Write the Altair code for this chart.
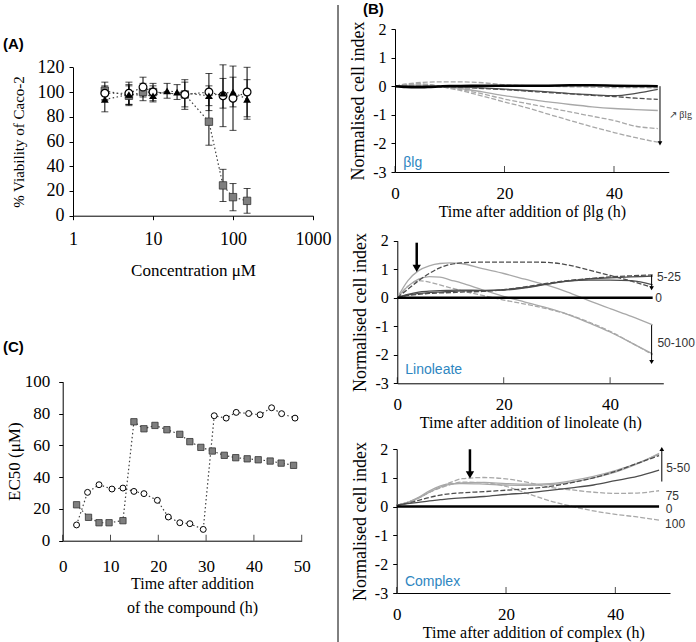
import altair as alt
import pandas as pd

SERIF = "Liberation Serif"
SANS = "Liberation Sans"
W, H = 696, 642

# ---------------- Panel A : viability vs concentration ----------------
A_sq_conc = [2.5, 5, 7.5, 10, 25, 50, 75, 100, 150]
A_sq_val = [101, 97, 100, 100, 98, 76, 24.5, 15, 12]
A_sq_err = [7, 8, 7, 5, 12, 19, 13, 11, 10]
A_ci_conc = [2.5, 5, 7.5, 10, 25, 50, 75, 100, 150]
A_ci_val = [99, 99, 104, 100, 98, 100, 97, 95, 100]
A_ci_err = [6, 9, 8, 7, 10, 15, 25, 26, 20]
A_tr_conc = [2.5, 5, 10, 15, 20, 50, 75, 100, 150]
A_tr_val = [94, 98, 97, 101, 100, 97, 99, 100, 94]
A_tr_err = [10, 8, 5, 6, 6, 8, 12, 12, 16]
A_xticks = [1, 10, 100, 1000]
A_yticks = [0, 20, 40, 60, 80, 100, 120]

# ---------------- Panel C : EC50 vs time ----------------
C_sq_t = [2.9, 5.4, 7.6, 9.7, 12.6, 14.9, 17.0, 19.3, 21.8, 24.5, 26.6, 28.9, 31.3, 33.8, 36.2, 38.6, 40.9, 43.4, 45.7, 48.3]
C_sq_v = [22.6, 14.7, 11.3, 11.3, 12.6, 74.8, 70.4, 72.5, 69.8, 66.9, 62.3, 58.7, 56.4, 53.7, 52.2, 51.5, 50.9, 50.1, 48.8, 47.4]
C_ci_t = [2.9, 5.2, 7.6, 10.3, 12.6, 14.9, 17.0, 19.8, 22.1, 24.5, 26.6, 29.4, 31.7, 34.2, 36.3, 38.9, 41.3, 43.7, 45.8, 48.6]
C_ci_v = [9.9, 30.4, 35.2, 32.5, 33.1, 31.0, 29.6, 25.4, 14.9, 11.3, 10.7, 7.1, 78.6, 77.1, 80.7, 80.0, 79.2, 83.6, 79.9, 77.1]
C_xticks = [0, 10, 20, 30, 40, 50]
C_yticks = [0, 20, 40, 60, 80, 100]

# ---------------- Panel B : normalised cell index ----------------
B_T = [0, 2, 4, 6, 8, 10, 12, 16, 20, 24, 28, 32, 36, 40, 44, 48]
B_xticks = [0, 20, 40]
B_yticks = [-3, -2, -1, 0, 1, 2]

b1_ctrl = [0, -0.03, -0.04, -0.03, -0.01, 0.01, 0.01, 0.02, 0.02, 0.02, 0.02, 0.03, 0.03, 0.02, 0.01, 0]
b1_ds = [0, 0, 0, 0, -0.01, -0.02, -0.03, -0.06, -0.1, -0.15, -0.2, -0.26, -0.3, -0.33, -0.25, -0.11]
b1_dd = [0, 0, 0, 0, -0.01, -0.02, -0.04, -0.08, -0.12, -0.17, -0.22, -0.27, -0.32, -0.36, -0.42, -0.46]
b1_gs = [0, 0.03, 0.04, 0.03, 0, -0.04, -0.08, -0.2, -0.33, -0.44, -0.55, -0.64, -0.72, -0.78, -0.82, -0.85]
b1_gd1 = [0, 0.05, 0.08, 0.06, 0, -0.06, -0.12, -0.27, -0.45, -0.6, -0.75, -0.9, -1.05, -1.2, -1.4, -1.48]
b1_gd2 = [0, 0.05, 0.08, 0.06, 0, -0.08, -0.15, -0.35, -0.55, -0.75, -0.98, -1.2, -1.42, -1.62, -1.8, -1.96]
b1_gd3 = [0, 0.08, 0.12, 0.14, 0.15, 0.15, 0.15, 0.12, 0.05, 0.02, 0, -0.02, -0.03, -0.05, -0.05, -0.06]

b2_ctrl = [0] * 16
b2_gs1 = [0, 0.6, 0.95, 1.12, 1.2, 1.22, 1.2, 1.02, 0.85, 0.65, 0.45, 0.2, -0.1, -0.38, -0.65, -0.95]
b2_dd1 = [0, 0.3, 0.6, 0.85, 1.05, 1.17, 1.22, 1.25, 1.25, 1.25, 1.24, 1.15, 0.97, 0.78, 0.58, 0.36]
b2_ds1 = [0, 0.1, 0.15, 0.18, 0.2, 0.22, 0.24, 0.25, 0.28, 0.36, 0.48, 0.58, 0.62, 0.62, 0.6, 0.45]
b2_dd2 = [0, 0.08, 0.12, 0.15, 0.17, 0.18, 0.2, 0.22, 0.28, 0.38, 0.5, 0.6, 0.67, 0.73, 0.77, 0.8]
b2_ds2 = [0, 0.12, 0.2, 0.23, 0.25, 0.26, 0.27, 0.26, 0.27, 0.35, 0.47, 0.58, 0.66, 0.7, 0.73, 0.76]
b2_gd1 = [0, 0.4, 0.6, 0.55, 0.45, 0.35, 0.25, 0.08, -0.08, -0.22, -0.38, -0.58, -0.85, -1.18, -1.58, -2.0]
b2_gs2 = [0, 0.4, 0.65, 0.74, 0.72, 0.62, 0.52, 0.28, 0.05, -0.15, -0.35, -0.58, -0.88, -1.2, -1.58, -1.97]

b3_ctrl = [0] * 16
b3_gd75 = [0.05, 0.15, 0.3, 0.5, 0.68, 0.85, 0.97, 1.01, 0.96, 0.84, 0.67, 0.58, 0.5, 0.46, 0.47, 0.55]
b3_gd100 = [0.05, 0.15, 0.3, 0.5, 0.65, 0.77, 0.85, 0.83, 0.7, 0.45, 0.2, 0.01, -0.15, -0.27, -0.36, -0.47]
b3_gs1 = [0.05, 0.12, 0.3, 0.5, 0.68, 0.78, 0.82, 0.84, 0.8, 0.78, 0.8, 0.9, 1.05, 1.25, 1.5, 1.82]
b3_gs2 = [0.05, 0.15, 0.32, 0.55, 0.72, 0.8, 0.8, 0.78, 0.75, 0.74, 0.76, 0.85, 1.0, 1.2, 1.48, 1.85]
b3_dd = [0.05, 0.12, 0.22, 0.32, 0.4, 0.45, 0.48, 0.52, 0.57, 0.62, 0.7, 0.83, 1.0, 1.22, 1.5, 1.77]
b3_ds = [0.05, 0.1, 0.15, 0.2, 0.24, 0.28, 0.3, 0.35, 0.42, 0.48, 0.56, 0.65, 0.75, 0.9, 1.05, 1.27]

# arrows: (x, from, to, heavy)
b1_arrows = [(48.4, 0.0, -2.0, False)]
b2_arrows = [(3.65, 1.93, 1.03, True), (47.8, 0.8, 0.33, False), (47.8, -0.96, -2.25, False)]
b3_arrows = [(13.4, 1.99, 1.1, True), (48.5, 0.87, 2.0, False)]
# side notes: (x, y, text, font, size)
b1_notes = [(50.0, -1.0, "↗ βlg", SERIF, 10)]
b2_notes = [(48.8, 0.74, "5-25", SANS, 12), (48.5, 0.0, "0", SANS, 12), (48.9, -1.6, "50-100", SANS, 12)]
b3_notes = [(49.3, 1.33, "5-50", SANS, 12), (49.2, 0.37, "75", SANS, 12), (49.2, -0.09, "0", SANS, 12),
            (49.1, -0.6, "100", SANS, 12)]

STY = {
    "gs": dict(color="#a8a8a8", strokeWidth=1.3),
    "gd": dict(color="#a8a8a8", strokeWidth=1.3, strokeDash=[5, 2]),
    "ds": dict(color="#4d4d4d", strokeWidth=1.3),
    "dd": dict(color="#4d4d4d", strokeWidth=1.3, strokeDash=[5, 2]),
    "k": dict(color="black", strokeWidth=2.5),
}


def lin(domain, rng):
    return alt.Scale(type="linear", domain=domain, range=rng, nice=False, zero=False)


def axis(orient, pos, values, title, lab_fs, title_fs, tick_size, lab_pad, title_pad, ticks=True, **extra):
    offset = -pos if orient == "left" else pos - H
    return alt.Axis(orient=orient, offset=offset, values=values, title=title, grid=False,
                    ticks=ticks, tickSize=tick_size, tickColor="black", domainColor="black",
                    labelFont=SERIF, labelFontSize=lab_fs, labelColor="black", labelPadding=lab_pad,
                    labelFlush=False, labelOverlap=False, labelExpr="'' + datum.value",
                    titleFont=SERIF, titleFontSize=title_fs, titleFontWeight="normal",
                    titleColor="black", titlePadding=title_pad, **extra)


# ---------------- build panel A ----------------
def errdf(c, v, e, s):
    return pd.DataFrame({"c": c, "v": v, "lo": [a - b for a, b in zip(v, e)],
                         "hi": [a + b for a, b in zip(v, e)], "s": s})


dA = pd.concat([errdf(A_sq_conc, A_sq_val, A_sq_err, "sq"),
                errdf(A_ci_conc, A_ci_val, A_ci_err, "ci"),
                errdf(A_tr_conc, A_tr_val, A_tr_err, "tr")], ignore_index=True)
xA = alt.Scale(type="log", domain=[1, 1000], range=[73, 313], nice=False)
yA = lin([0, 120], [215.7, 67.3])
axAx = axis("bottom", 215.7, A_xticks, "Concentration μM", 18, 17, 4, 11, 14)
axAy = axis("left", 73, A_yticks, "% Viability of Caco-2", 18, 15, 4, 5, 11)


def XA(f="c:Q"):
    return alt.X(f, scale=xA, axis=axAx)


def YA(f):
    return alt.Y(f, scale=yA, axis=axAy)


panelA = alt.layer(
    alt.Chart(dA).mark_line(color="#404040", strokeWidth=1.2, strokeDash=[1.5, 2.5]).encode(
        x=XA(), y=YA("v:Q"), detail="s:N"),
    alt.Chart(dA).mark_rule(color="black", strokeWidth=1).encode(x=XA(), y=YA("lo:Q"), y2="hi:Q"),
    alt.Chart(dA).mark_tick(orient="horizontal", size=7, thickness=1, color="black").encode(x=XA(), y=YA("lo:Q")),
    alt.Chart(dA).mark_tick(orient="horizontal", size=7, thickness=1, color="black").encode(x=XA(), y=YA("hi:Q")),
    alt.Chart(dA[dA.s == "sq"]).mark_point(shape="square", filled=True, fill="#7f7f7f", stroke="#333333",
                                           strokeWidth=0.8, size=55, opacity=1).encode(x=XA(), y=YA("v:Q")),
    alt.Chart(dA[dA.s == "ci"]).mark_point(shape="circle", filled=True, fill="white", stroke="black",
                                           strokeWidth=1.2, size=60, opacity=1).encode(x=XA(), y=YA("v:Q")),
    alt.Chart(dA[dA.s == "tr"]).mark_point(shape="triangle-up", filled=True, fill="black",
                                           size=60, opacity=1).encode(x=XA(), y=YA("v:Q")),
)

# ---------------- build panel C ----------------
dC = pd.concat([pd.DataFrame({"t": C_sq_t, "v": C_sq_v, "s": "sq"}),
                pd.DataFrame({"t": C_ci_t, "v": C_ci_v, "s": "ci"})], ignore_index=True)
xC = lin([0, 50], [62.7, 301.7])
yC = lin([0, 100], [540.7, 381.7])
axCx = axis("bottom", 540.7, C_xticks, ["Time after addition", "of the compound (h)"], 17, 16, 0, 18, 0,
            ticks=False, titleLineHeight=24, titleX=192, titleY=35, titleBaseline="top")
axCy = axis("left", 62.7, C_yticks, "EC50 (μM)", 17, 17, 4, 9, 1)
tickC = pd.DataFrame({"t": C_xticks, "y0": [0] * len(C_xticks)})


def XC(f):
    return alt.X(f, scale=xC, axis=axCx)


def YC(f):
    return alt.Y(f, scale=yC, axis=axCy)


panelC = alt.layer(
    alt.Chart(tickC).mark_tick(orient="vertical", size=6, thickness=1, color="black", yOffset=-3).encode(
        x=XC("t:Q"), y=YC("y0:Q")),
    alt.Chart(dC).mark_line(color="#404040", strokeWidth=1.2, strokeDash=[1.5, 2.5]).encode(
        x=XC("t:Q"), y=YC("v:Q"), detail="s:N"),
    alt.Chart(dC[dC.s == "sq"]).mark_point(shape="square", filled=True, fill="#7f7f7f", stroke="#333333",
                                           strokeWidth=0.8, size=40, opacity=1).encode(x=XC("t:Q"), y=YC("v:Q")),
    alt.Chart(dC[dC.s == "ci"]).mark_point(shape="circle", filled=True, fill="white", stroke="black",
                                           strokeWidth=1, size=35, opacity=1).encode(x=XC("t:Q"), y=YC("v:Q")),
)


# ---------------- build panel B ----------------
def b_panel(series, xr, yr, xtitle, tag, tag_xy, arrows, notes):
    xs = lin([0, 50], xr)
    ys = lin([-3, 2], yr)
    ax_x = axis("bottom", yr[0], B_xticks, xtitle, 17, 16, 0, 13, 2, ticks=False)
    ax_y = axis("left", xr[0], B_yticks, "Normalised cell index", 16, 18, 4, 5, 5)

    def X(f):
        return alt.X(f, scale=xs, axis=ax_x)

    def Y(f):
        return alt.Y(f, scale=ys, axis=ax_y)

    tick_df = pd.DataFrame({"t": B_xticks, "y0": [-3] * len(B_xticks)})
    layers = [alt.Chart(tick_df).mark_tick(orient="vertical", size=6, thickness=1, color="black", yOffset=-3).encode(
        x=X("t:Q"), y=Y("y0:Q"))]
    for style in ["gs", "gd", "ds", "dd", "k"]:
        rows = []
        for i, (vals, st) in enumerate(series):
            if st == style:
                rows += [{"t": t, "v": v, "id": i} for t, v in zip(B_T, vals)]
        if rows:
            layers.append(alt.Chart(pd.DataFrame(rows)).mark_line(interpolate="monotone", **STY[style]).encode(
                x=X("t:Q"), y=Y("v:Q"), detail="id:N"))
    for heavy in (False, True):
        sel = [a for a in arrows if a[3] == heavy]
        if not sel:
            continue
        ad = pd.DataFrame({"x": [a[0] for a in sel], "y1": [a[1] for a in sel], "y2": [a[2] for a in sel]})
        layers.append(alt.Chart(ad).mark_rule(color="black", strokeWidth=2.5 if heavy else 1).encode(
            x=X("x:Q"), y=Y("y1:Q"), y2="y2:Q"))
        for shape, cond in (("triangle-down", ad.y2 < ad.y1), ("triangle-up", ad.y2 > ad.y1)):
            sub = ad[cond]
            if len(sub):
                layers.append(alt.Chart(sub).mark_point(shape=shape, filled=True, color="black", opacity=1,
                                                        size=70 if heavy else 22).encode(x=X("x:Q"), y=Y("y2:Q")))
    for n in notes:
        nd = pd.DataFrame({"x": [n[0]], "y": [n[1]], "txt": [n[2]]})
        layers.append(alt.Chart(nd).mark_text(align="left", baseline="middle", font=n[3], fontSize=n[4],
                                              color="#333333").encode(x=X("x:Q"), y=Y("y:Q"), text="txt:N"))
    td = pd.DataFrame({"x": [tag_xy[0]], "y": [tag_xy[1]], "txt": [tag]})
    layers.append(alt.Chart(td).mark_text(align="left", baseline="middle", font=SANS, fontSize=14,
                                          color="#2e86c1").encode(x=X("x:Q"), y=Y("y:Q"), text="txt:N"))
    return alt.layer(*layers)


panelB1 = b_panel([(b1_gd3, "gd"), (b1_gs, "gs"), (b1_gd1, "gd"), (b1_gd2, "gd"),
                   (b1_ds, "ds"), (b1_dd, "dd"), (b1_ctrl, "k")],
                  [395, 668.75], [172, 29], "Time after addition of βlg (h)", "βlg", (1.5, -2.7),
                  b1_arrows, b1_notes)
panelB2 = b_panel([(b2_gs1, "gs"), (b2_gs2, "gs"), (b2_gd1, "gd"), (b2_dd1, "dd"),
                   (b2_ds1, "ds"), (b2_dd2, "dd"), (b2_ds2, "ds"), (b2_ctrl, "k")],
                  [397.3, 663.3], [383.3, 240.7], "Time after addition of linoleate (h)", "Linoleate",
                  (1.5, -2.53), b2_arrows, b2_notes)
panelB3 = b_panel([(b3_gd75, "gd"), (b3_gd100, "gd"), (b3_gs1, "gs"), (b3_gs2, "gs"),
                   (b3_dd, "dd"), (b3_ds, "ds"), (b3_ctrl, "k")],
                  [396.7, 670], [593, 449], "Time after addition of complex (h)", "Complex",
                  (1.5, -2.62), b3_arrows, b3_notes)

# ---------------- decorations ----------------
divider = alt.Chart().mark_rule(color="black", strokeWidth=1).encode(
    x=alt.value(338), y=alt.value(5), y2=alt.value(642))


def letter(txt, x, y):
    return alt.Chart().mark_text(font=SANS, fontWeight="bold", fontSize=15, align="left",
                                 baseline="middle", color="black").encode(
        x=alt.value(x), y=alt.value(y), text=alt.value(txt))


chart = alt.layer(
    panelA, panelC, panelB1, panelB2, panelB3, divider,
    letter("(A)", 3, 44), letter("(B)", 363, 9), letter("(C)", 3, 347),
).resolve_scale(x="independent", y="independent").resolve_axis(
    x="independent", y="independent"
).properties(
    width=W, height=H, autosize=alt.AutoSizeParams(type="none"), padding=0, background="white"
).configure_view(stroke=None)

chart.save("out.html", embed_options={"renderer": "svg", "actions": False})
